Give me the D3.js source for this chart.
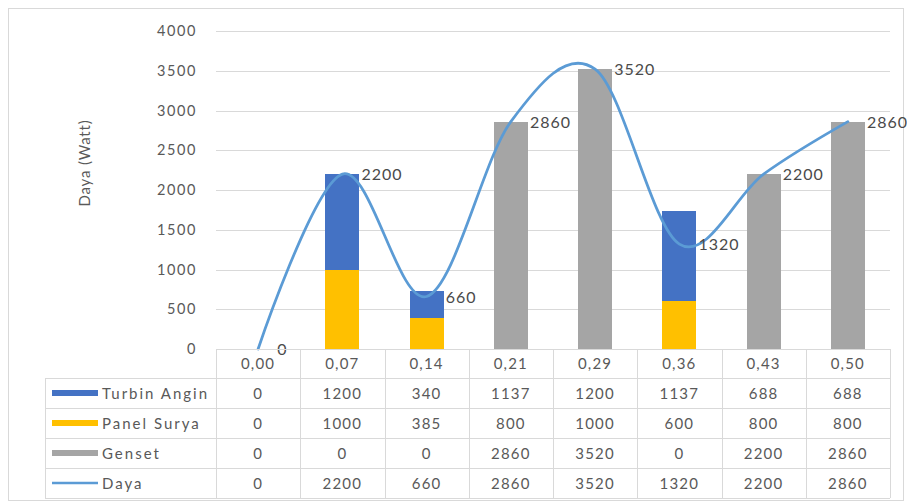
<!DOCTYPE html>
<html>
<head>
<meta charset="utf-8">
<script src="https://cdn.jsdelivr.net/npm/d3@7/dist/d3.min.js"></script>
<style>
  html, body { margin: 0; padding: 0; background: #fff; }
  svg { display: block; font-family: Lato, "Open Sans", sans-serif; }
</style>
</head>
<body>
<svg id="chart" width="907" height="504"></svg>
<script>
// Data
const categories = ["0,00", "0,07", "0,14", "0,21", "0,29", "0,36", "0,43", "0,50"];
const turbinAngin = [0, 1200, 340, 1137, 1200, 1137, 688, 688];
const panelSurya = [0, 1000, 385, 800, 1000, 600, 800, 800];
const genset = [0, 0, 0, 2860, 3520, 0, 2200, 2860];
const daya = [0, 2200, 660, 2860, 3520, 1320, 2200, 2860];
const yTicks = [0, 500, 1000, 1500, 2000, 2500, 3000, 3500, 4000];

const colors = { turbin: "#4472c4", panel: "#ffc000", genset: "#a5a5a5", daya: "#5b9bd5" };
const textColor = "#595959";
const gridColor = "#d9d9d9";

const svg = d3.select("#chart");

// Outer frame
svg.append("rect").attr("x", 8.5).attr("y", 8.5).attr("width", 895).attr("height", 492)
  .attr("fill", "#fff").attr("stroke", "#d9d9d9").attr("stroke-width", 1);

const plot = { left: 216, right: 890, top: 31, bottom: 349 };

const x = d3.scaleBand().domain(categories).range([plot.left, plot.right]).padding(0);
const y = d3.scaleLinear().domain([0, 4000]).range([plot.bottom, plot.top]);
const cx = c => x(c) + x.bandwidth() / 2;
const barW = Math.round(x.bandwidth() * 0.4);
const barX = c => Math.round(cx(c) - barW / 2);

// Gridlines
svg.append("g").selectAll("line").data(yTicks.filter(t => t > 0)).join("line")
  .attr("x1", plot.left).attr("x2", plot.right)
  .attr("y1", d => Math.round(y(d)) + 0.5).attr("y2", d => Math.round(y(d)) + 0.5)
  .attr("stroke", gridColor).attr("stroke-width", 1);

// Y axis labels
const yAxis = d3.axisLeft(y).tickValues(yTicks).tickSize(0).tickPadding(0).tickFormat(d3.format("d"));
const gy = svg.append("g").attr("transform", `translate(${plot.left - 19},0)`).call(yAxis);
gy.select(".domain").remove();
gy.selectAll("text").attr("fill", textColor).style("font-size", "14.5px")
  .style("letter-spacing", "1.6px").attr("font-family", "Lato, sans-serif");

// Y axis title
svg.append("text")
  .attr("transform", `translate(90,163) rotate(-90)`)
  .attr("text-anchor", "middle").attr("fill", textColor)
  .style("font-size", "15px").style("letter-spacing", "0.8px")
  .text("Daya (Watt)");

// Bars: Panel Surya at the base, Turbin Angin stacked above, Genset drawn from zero in front
const rows = categories.map((c, i) => ({ c, panel: panelSurya[i], turbin: turbinAngin[i], genset: genset[i] }));
const bars = svg.append("g").attr("shape-rendering", "crispEdges");
bars.selectAll(".panel").data(rows).join("rect").attr("class", "panel")
  .attr("x", d => barX(d.c)).attr("width", barW)
  .attr("y", d => y(d.panel)).attr("height", d => y(0) - y(d.panel))
  .attr("fill", colors.panel);
bars.selectAll(".turbin").data(rows).join("rect").attr("class", "turbin")
  .attr("x", d => barX(d.c)).attr("width", barW)
  .attr("y", d => y(d.panel + d.turbin)).attr("height", d => y(d.panel) - y(d.panel + d.turbin))
  .attr("fill", colors.turbin);
bars.selectAll(".genset").data(rows).join("rect").attr("class", "genset")
  .attr("x", d => barX(d.c)).attr("width", barW)
  .attr("y", d => y(d.genset)).attr("height", d => y(0) - y(d.genset))
  .attr("fill", colors.genset);

// Smoothed total power line
const pts = categories.map((c, i) => [cx(c), y(daya[i])]);
svg.append("path").attr("d", d3.line().curve(d3.curveCardinal.tension(0))(pts))
  .attr("fill", "none").attr("stroke", colors.daya).attr("stroke-width", 2.75)
  .attr("stroke-linecap", "round");

// Value labels on the line
svg.append("g").selectAll("text").data(categories).join("text")
  .attr("x", c => cx(c) + 19).attr("y", (c, i) => y(daya[i]) + 6)
  .attr("fill", "#4a4a4a").style("font-size", "16px").style("letter-spacing", "1px")
  .text((c, i) => daya[i]);

// Data table below the plot
const tableTop = 378, rowH = 30, tableLeft = 45;
const tableRows = [
  { name: "Turbin Angin", values: turbinAngin, color: colors.turbin, key: "bar" },
  { name: "Panel Surya", values: panelSurya, color: colors.panel, key: "bar" },
  { name: "Genset", values: genset, color: colors.genset, key: "bar" },
  { name: "Daya", values: daya, color: colors.daya, key: "line" }
];

const grid = svg.append("g").attr("stroke", gridColor).attr("stroke-width", 1);
// Horizontal table lines
d3.range(tableRows.length + 1).forEach(k => {
  grid.append("line").attr("x1", tableLeft).attr("x2", plot.right)
    .attr("y1", tableTop + k * rowH + 0.5).attr("y2", tableTop + k * rowH + 0.5);
});
// Axis line along zero
grid.append("line").attr("x1", plot.left).attr("x2", plot.right)
  .attr("y1", plot.bottom + 0.5).attr("y2", plot.bottom + 0.5);
// Vertical column lines
categories.concat(["end"]).forEach((c, k) => {
  const xv = Math.round(plot.left + k * x.bandwidth()) + 0.5;
  grid.append("line").attr("x1", xv).attr("x2", xv)
    .attr("y1", plot.bottom).attr("y2", tableTop + tableRows.length * rowH);
});
grid.append("line").attr("x1", tableLeft + 0.5).attr("x2", tableLeft + 0.5)
  .attr("y1", tableTop).attr("y2", tableTop + tableRows.length * rowH);

// Category labels
svg.append("g").selectAll("text").data(categories).join("text")
  .attr("x", c => cx(c)).attr("y", 369).attr("text-anchor", "middle")
  .attr("fill", textColor).style("font-size", "15px").style("letter-spacing", "1.2px")
  .text(c => c);

// Table rows
tableRows.forEach((r, k) => {
  const cy = tableTop + k * rowH + rowH / 2;
  if (r.key === "bar") {
    svg.append("rect").attr("x", 52).attr("y", cy - 3).attr("width", 46).attr("height", 6).attr("fill", r.color);
  } else {
    svg.append("line").attr("x1", 52).attr("x2", 98).attr("y1", cy).attr("y2", cy)
      .attr("stroke", r.color).attr("stroke-width", 2.5);
  }
  svg.append("text").attr("x", 102).attr("y", cy + 5.5).attr("fill", textColor)
    .style("font-size", "15px").style("letter-spacing", "2px").text(r.name);
  svg.append("g").selectAll("text").data(categories).join("text")
    .attr("x", c => cx(c)).attr("y", cy + 5.5).attr("text-anchor", "middle")
    .attr("fill", textColor).style("font-size", "15px").style("letter-spacing", "1.2px")
    .text((c, i) => r.values[i]);
});
</script>
</body>
</html>
